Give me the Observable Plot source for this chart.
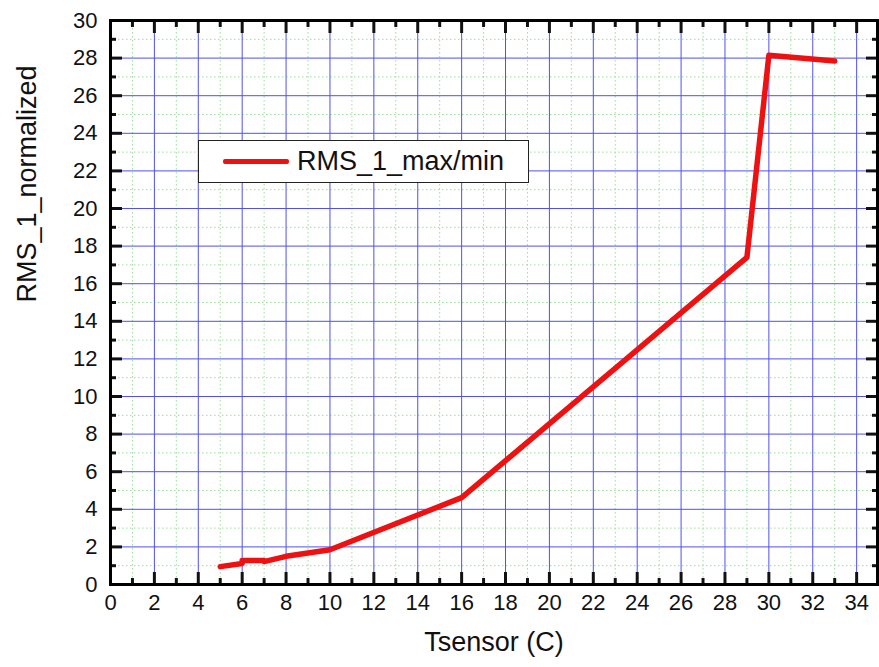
<!DOCTYPE html>
<html>
<head>
<meta charset="utf-8">
<script src="https://cdn.jsdelivr.net/npm/d3@7"></script>
<script src="https://cdn.jsdelivr.net/npm/@observablehq/plot@0.6"></script>
<style>
  html, body { margin: 0; padding: 0; background: white; }
  #wrap { position: relative; width: 879px; height: 667px; font-family: "Liberation Sans", Arial, sans-serif; }
  #legend { position: absolute; left: 198px; top: 140px; width: 331px; height: 43px; border: 1.5px solid #222; background: white; box-sizing: border-box; }
  #legend .swatch { position: absolute; left: 24px; top: 18px; width: 66px; height: 5px; background: #ee1111; border-radius: 2px; }
  #legend .lab { position: absolute; left: 98px; top: 2px; font-size: 27px; line-height: 36px; color: #111; }
</style>
</head>
<body>
<div id="wrap"></div>
<script>
// Data
const tsensor = [5, 6, 6, 7, 7, 8, 10, 16, 29, 30, 33];
const rmsNormalized = [0.95, 1.12, 1.28, 1.28, 1.22, 1.5, 1.85, 4.62, 17.4, 28.15, 27.85];
const seriesName = "RMS_1_max/min";
const xLabel = "Tsensor (C)";
const yLabel = "RMS_1_normalized";
const xMajorTicks = d3.range(0, 35, 2);
const xMinorTicks = d3.range(1, 35, 2);
const yMajorTicks = d3.range(0, 31, 2);
const yMinorTicks = d3.range(1, 30, 2);

const data = tsensor.map((t, i) => ({t, v: rmsNormalized[i]}));

const chart = Plot.plot({
  width: 879,
  height: 667,
  marginLeft: 110,
  marginRight: 2,
  marginTop: 20,
  marginBottom: 83,
  style: {fontFamily: "'Liberation Sans', Arial, sans-serif", fontSize: "22px", background: "white", color: "#111"},
  x: {domain: [0, 34.95]},
  y: {domain: [0, 30]},
  marks: [
    // minor dotted green grid
    Plot.gridX(xMinorTicks, {stroke: "#9edc9e", strokeOpacity: 1, strokeWidth: 1, strokeDasharray: "1.5,2.5"}),
    Plot.gridY(yMinorTicks, {stroke: "#9edc9e", strokeOpacity: 1, strokeWidth: 1, strokeDasharray: "1.5,2.5"}),
    // major blue grid
    Plot.gridX(xMajorTicks, {stroke: "#5050f0", strokeOpacity: 1, strokeWidth: 1}),
    Plot.gridY(yMajorTicks, {stroke: "#5050f0", strokeOpacity: 1, strokeWidth: 1}),
    // tick labels
    Plot.axisX(xMajorTicks, {anchor: "bottom", tickSize: 0, tickPadding: 10, label: null, tickFormat: d => d}),
    Plot.axisY(yMajorTicks, {anchor: "left", tickSize: 0, tickPadding: 13, label: null, tickFormat: d => d}),
    // inward ticks (all four sides)
    Plot.axisX(xMajorTicks, {anchor: "bottom", tickSize: -12, strokeWidth: 3, text: null, label: null}),
    Plot.axisX(xMinorTicks, {anchor: "bottom", tickSize: -6, strokeWidth: 3, text: null, label: null}),
    Plot.axisX(xMajorTicks, {anchor: "top", tickSize: -12, strokeWidth: 3, text: null, label: null}),
    Plot.axisX(xMinorTicks, {anchor: "top", tickSize: -6, strokeWidth: 3, text: null, label: null}),
    Plot.axisY(yMajorTicks, {anchor: "left", tickSize: -12, strokeWidth: 3, text: null, label: null}),
    Plot.axisY(yMinorTicks, {anchor: "left", tickSize: -6, strokeWidth: 3, text: null, label: null}),
    Plot.axisY(yMajorTicks, {anchor: "right", tickSize: -12, strokeWidth: 3, text: null, label: null}),
    Plot.axisY(yMinorTicks, {anchor: "right", tickSize: -6, strokeWidth: 3, text: null, label: null}),
    Plot.frame({stroke: "#000", strokeWidth: 3}),
    // data line
    Plot.line(data, {x: "t", y: "v", stroke: "#ee1111", strokeWidth: 5.5, strokeLinejoin: "round", strokeLinecap: "round"}),
    // axis titles
    Plot.text([xLabel], {frameAnchor: "bottom", dy: 66, text: d => d, fontSize: 27, fill: "#111"}),
    Plot.text([yLabel], {frameAnchor: "left", dx: -83, rotate: -90, text: d => d, fontSize: 27, fill: "#111"})
  ]
});

const wrap = document.getElementById("wrap");
wrap.appendChild(chart);
const legend = document.createElement("div");
legend.id = "legend";
legend.innerHTML = `<div class="swatch"></div><div class="lab"></div>`;
legend.querySelector(".lab").textContent = seriesName;
wrap.appendChild(legend);
chart.style.position = "absolute";
chart.style.left = "0";
chart.style.top = "0";
</script>
</body>
</html>
